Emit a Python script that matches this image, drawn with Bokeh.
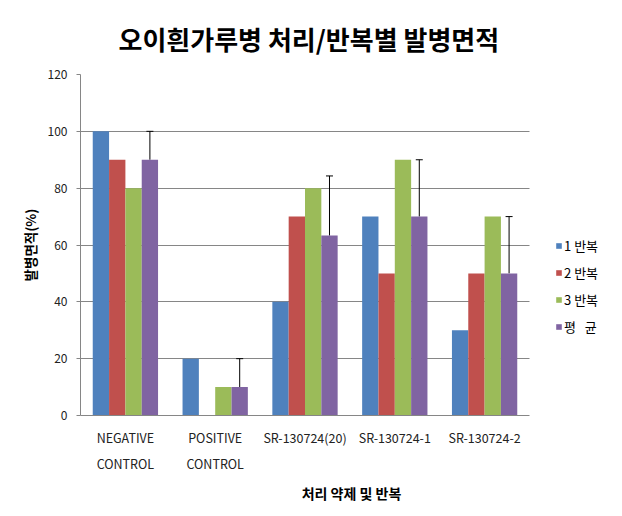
from bokeh.plotting import figure
from bokeh.models import (Range1d, FixedTicker, LinearAxis, Legend, LegendItem,
                          ColumnDataSource, Whisker, TeeHead, Title)
from bokeh.embed import file_html
from bokeh.resources import INLINE

categories = ["NEGATIVE CONTROL", "POSITIVE CONTROL", "SR-130724(20)", "SR-130724-1", "SR-130724-2"]
label_line1 = ["NEGATIVE", "POSITIVE", "SR-130724(20)", "SR-130724-1", "SR-130724-2"]
label_line2 = ["CONTROL", "CONTROL", "", "", ""]
series_names = ["1 반복", "2 반복", "3 반복", "평\u00a0\u00a0\u00a0균"]
rep1 = [100, 20, 40, 70, 30]
rep2 = [90, 0, 70, 50, 50]
rep3 = [80, 10, 80, 90, 70]
avg = [90, 10, 63.3, 70, 50]
err = [10, 10, 21, 20, 20]
y_ticks = [0, 20, 40, 60, 80, 100, 120]

colors = ["#4F81BD", "#C0504D", "#9BBB59", "#8064A2"]
FONT = "Noto Sans CJK KR"
GRID = "#868686"

W, H = 622, 516
LEFT, TOP, BOTTOM = 80, 73, 101
PLOT_W = 449                     # width of the bar area in pixels
FRAME_W = W - LEFT               # frame extends to the right edge (legend area)
n = len(categories)
x_end = n * FRAME_W / PLOT_W

p = figure(width=W, height=H, output_backend="svg", toolbar_location=None,
           x_range=Range1d(0, x_end), y_range=Range1d(0, 120),
           x_axis_location=None, y_axis_location=None,
           min_border_left=LEFT, min_border_right=0, min_border_top=TOP, min_border_bottom=BOTTOM)
p.outline_line_color = None
p.background_fill_color = "white"
p.border_fill_color = "white"

title = Title(text="오이흰가루병 처리/반복별 발병면적", align="left", offset=38,
              text_font=FONT, text_font_size="26px", text_font_style="bold",
              text_color="#000000", standoff=35)
p.add_layout(title, "above")

# y axis
yax = LinearAxis(ticker=FixedTicker(ticks=y_ticks), axis_label="발병면적(%)")
yax.axis_line_color = GRID
yax.major_tick_line_color = GRID
yax.major_tick_out = 4
yax.major_tick_in = 0
yax.minor_tick_line_color = None
yax.major_label_text_font = FONT
yax.major_label_text_font_size = "12px"
yax.major_label_text_color = "#222222"
yax.major_label_standoff = 9
yax.axis_label_text_font = FONT
yax.axis_label_text_font_size = "13.5px"
yax.axis_label_text_font_style = "bold"
yax.axis_label_text_color = "#000000"
yax.axis_label_standoff = 5
p.add_layout(yax, "left")

centers = [i + 0.5 for i in range(n)]

xax1 = LinearAxis(ticker=FixedTicker(ticks=centers), bounds=(0, n),
                  major_label_overrides={c: t for c, t in zip(centers, label_line1)})
xax1.axis_line_color = GRID
xax1.major_tick_line_color = None
xax1.minor_tick_line_color = None
xax1.major_label_text_font = FONT
xax1.major_label_text_font_size = "12.5px"
xax1.major_label_text_color = "#222222"
xax1.major_label_standoff = 6
p.add_layout(xax1, "below")

xax2 = LinearAxis(ticker=FixedTicker(ticks=centers), bounds=(0, n),
                  major_label_overrides={c: t for c, t in zip(centers, label_line2)},
                  axis_label="처리 약제 및 반복")
xax2.axis_line_color = None
xax2.major_tick_line_color = None
xax2.minor_tick_line_color = None
xax2.major_label_text_font = FONT
xax2.major_label_text_font_size = "12.5px"
xax2.major_label_text_color = "#222222"
xax2.major_label_standoff = -2
xax2.axis_label_text_font = FONT
xax2.axis_label_text_font_size = "14px"
xax2.axis_label_text_font_style = "bold"
xax2.axis_label_text_color = "#000000"
xax2.axis_label_standoff = 7
p.add_layout(xax2, "below")

p.xgrid.visible = False
p.ygrid.ticker = FixedTicker(ticks=y_ticks)
p.ygrid.grid_line_color = GRID
p.ygrid.grid_line_width = 1
p.ygrid.cross_bounds = (0, n)

bw = 1.0 / 5.5
offsets = [-1.5 * bw, -0.5 * bw, 0.5 * bw, 1.5 * bw]
series_vals = [rep1, rep2, rep3, avg]
items = []
for name, vals, off, col in zip(series_names, series_vals, offsets, colors):
    src = ColumnDataSource(dict(x=[c + off for c in centers], top=vals))
    r = p.vbar(x="x", top="top", width=bw, source=src, fill_color=col, line_color=None)
    items.append(LegendItem(label=name, renderers=[r]))

err_src = ColumnDataSource(dict(x=[c + offsets[3] for c in centers], lower=avg,
                                upper=[a + e for a, e in zip(avg, err)]))
wh = Whisker(base="x", lower="lower", upper="upper", source=err_src,
             line_color="black", line_width=1, lower_head=None,
             upper_head=TeeHead(size=7, line_color="black", line_width=1))
p.add_layout(wh)

legend = Legend(items=items, location=(PLOT_W + 26, 79), orientation="vertical",
                glyph_width=7, glyph_height=7, label_height=14, spacing=8,
                label_standoff=2, padding=0, margin=0, border_line_color=None,
                background_fill_alpha=0,
                label_text_font=FONT, label_text_font_size="13px",
                label_text_color="#000000")
p.add_layout(legend, "center")

open("out.html", "w").write(file_html(p, INLINE))
